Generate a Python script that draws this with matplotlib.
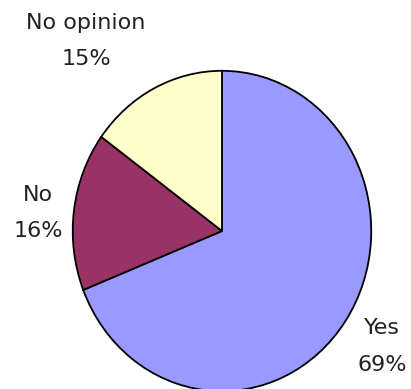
import matplotlib.pyplot as plt

labels = ['Yes', 'No', 'No opinion']
values = [69, 16, 15]
colors = ['#9999FF', '#993366', '#FFFFCC']

W, H = 411, 389
fig = plt.figure(figsize=(W / 100, H / 100), dpi=100)

# pie is slightly taller than wide, so let it stretch with the axes box
ax = fig.add_axes([72 / W, (H - 392) / H, 300 / W, 322 / H])
ax.pie(values, colors=colors, startangle=90, counterclock=False,
       wedgeprops=dict(edgecolor='black', linewidth=1.3))
ax.set_aspect('auto')
ax.set_xlim(-1.005, 1.005)
ax.set_ylim(-1.005, 1.005)
ax.axis('off')

# label text placed around the pie (pixel centres)
label_pos = {'Yes': (382, 328, 365), 'No': (38, 195, 231), 'No opinion': (86, 23, 59)}
for lab, val in zip(labels, values):
    x, y1, y2 = label_pos[lab]
    fig.text(x / W, 1 - y1 / H, lab, ha='center', va='center', fontsize=16, color='#222222')
    fig.text(x / W, 1 - y2 / H, f'{val}%', ha='center', va='center', fontsize=16, color='#222222')

fig.savefig('out.png', dpi=100)
